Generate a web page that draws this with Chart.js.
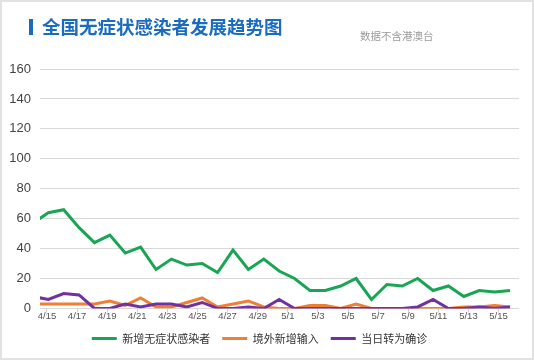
<!DOCTYPE html>
<html><head><meta charset="utf-8">
<script src="https://cdn.jsdelivr.net/npm/chart.js@4"></script>
<style>
body{margin:0;background:#fff}
#wrap{position:relative;width:534px;height:360px;overflow:hidden;background:#fff}
#c{position:absolute;left:0;top:0}
#frame{position:absolute;left:0;top:0;width:534px;height:360px;box-sizing:border-box;border:2px solid #e2e2e2;pointer-events:none}
#bar{position:absolute;left:29px;top:19px;width:4px;height:16px;background:#1a6cc0}
#title{position:absolute;left:42px;top:13px;font:bold 18.5px "Noto Sans CJK SC";color:#1a6cc0;line-height:26px;white-space:nowrap}
#sub{position:absolute;left:360px;top:29px;font:10.5px "Noto Sans CJK SC";color:#9a9a9a;line-height:14px;white-space:nowrap}
</style></head>
<body><div id="wrap"><canvas id="c" width="534" height="360"></canvas><div id="bar"></div><div id="title">全国无症状感染者发展趋势图</div><div id="sub">数据不含港澳台</div><div id="frame"></div></div>
<script>
// daily dates (first one is partially clipped at the left edge, as in the source)
const days = ['4/14','4/15','4/16','4/17','4/18','4/19','4/20','4/21','4/22','4/23','4/24','4/25','4/26','4/27','4/28','4/29','4/30','5/1','5/2','5/3','5/4','5/5','5/6','5/7','5/8','5/9','5/10','5/11','5/12','5/13','5/14','5/15'];
const tickLabels = ['4/15','4/17','4/19','4/21','4/23','4/25','4/27','4/29','5/1','5/3','5/5','5/7','5/9','5/11','5/13','5/15'];
const seriesNames = ['新增无症状感染者','境外新增输入','当日转为确诊'];
const newAsym     = [57,64,66,54,44,49,37,41,26,33,29,30,24,39,26,33,25,20,12,12,15,20,6,16,15,20,12,15,8,12,11,12];
const imported    = [3,3,3,3,3,5,2,7,1,1,4,7,1,3,5,1,0,0,2,2,0,3,0,0,0,0,0,0,1,1,2,1];
const toConfirmed = [8,6,10,9,0,0,3,1,3,3,1,4,0,0,1,0,6,0,0,0,0,0,0,0,0,1,6,0,0,1,0,1];

const G = '#19a553', O = '#ee7f34', P = '#7131a0';
const mk = arr => arr.map((v, i) => ({ x: i - 1, y: v }));

new Chart(document.getElementById('c'), {
  type: 'line',
  data: {
    datasets: [
      { label: seriesNames[0], data: mk(newAsym), borderColor: G, backgroundColor: G, borderWidth: 3, order: 0 },
      { label: seriesNames[1], data: mk(imported), borderColor: O, backgroundColor: O, borderWidth: 3, order: 2 },
      { label: seriesNames[2], data: mk(toConfirmed), borderColor: P, backgroundColor: P, borderWidth: 3, order: 1 }
    ]
  },
  options: {
    responsive: false,
    animation: false,
    events: [],
    layout: { padding: { top: 69, right: 15, bottom: 6, left: 0 } },
    elements: { point: { radius: 0 }, line: { tension: 0, fill: false } },
    scales: {
      x: { type: 'linear', display: false, min: -0.539, max: 30.585 },
      xl: {
        type: 'linear', position: 'bottom', min: -0.465, max: 31.36,
        afterBuildTicks: s => { s.ticks = tickLabels.map((t, i) => ({ value: i * 2 })); },
        ticks: {
          callback: (v, i) => tickLabels[i],
          font: { family: 'Liberation Sans', size: 9.5, lineHeight: 0.9 }, color: '#555', padding: 0,
          maxRotation: 0, minRotation: 0, autoSkip: false
        },
        grid: { drawOnChartArea: false, tickLength: 4, color: '#cfcfcf' },
        border: { display: false }
      },
      y: {
        min: 0, max: 160,
        ticks: { stepSize: 20, font: { family: 'Liberation Sans', size: 13 }, color: '#444', padding: 9 },
        grid: { color: '#d9d9d9', drawTicks: false },
        border: { display: false },
        afterFit: s => { s.width = 40; }
      }
    },
    plugins: {
      legend: {
        position: 'bottom',
        labels: {
          usePointStyle: true, pointStyle: 'line', pointStyleWidth: 25, boxHeight: 11,
          font: { family: 'Noto Sans CJK SC', size: 11 }, color: '#333', padding: 12,
          sort: (a, b) => a.datasetIndex - b.datasetIndex
        }
      },
      tooltip: { enabled: false }
    }
  }
});
</script>
</body></html>
